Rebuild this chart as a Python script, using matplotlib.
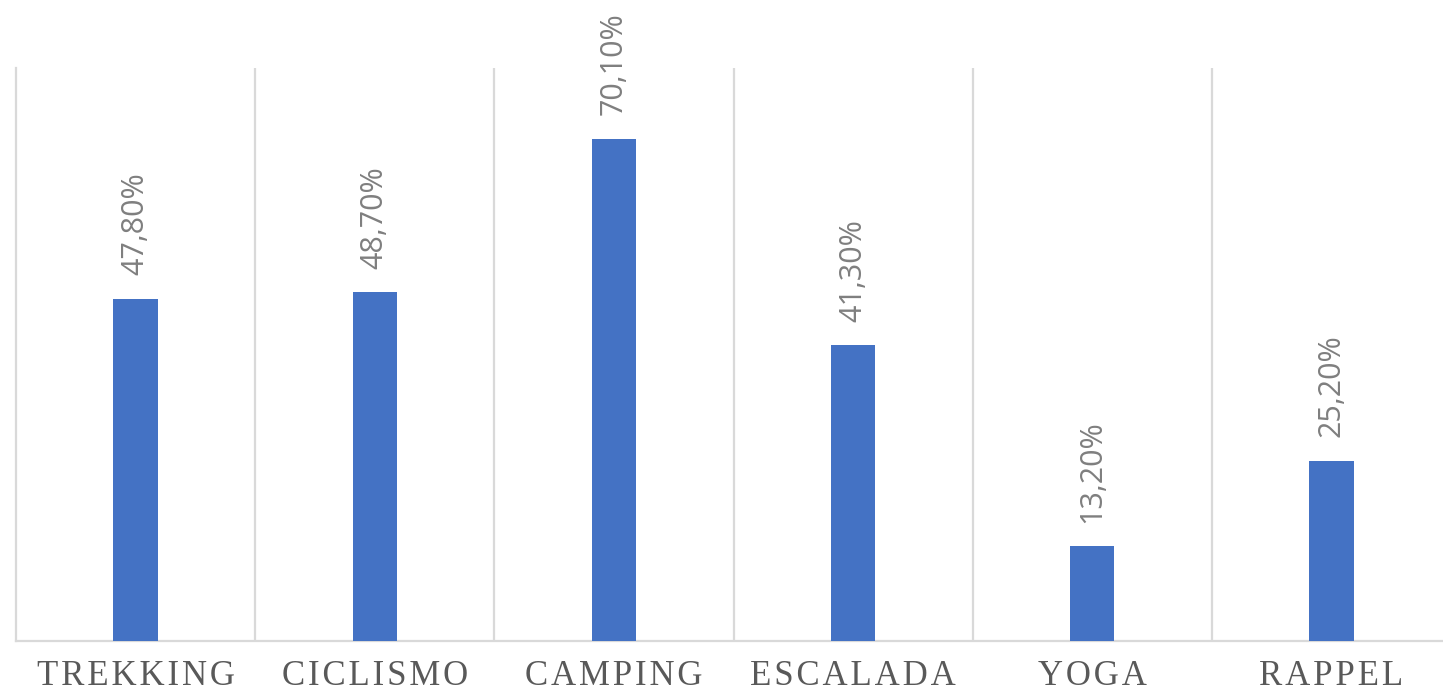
import matplotlib
matplotlib.use("Agg")
import matplotlib.pyplot as plt
import numpy as np

categories = ["TREKKING", "CICLISMO", "CAMPING", "ESCALADA", "YOGA", "RAPPEL"]
values = [47.8, 48.7, 70.1, 41.3, 13.2, 25.2]
value_labels = ["47,80%", "48,70%", "70,10%", "41,30%", "13,20%", "25,20%"]

W, H = 1443, 697
fig = plt.figure(figsize=(W / 100, H / 100), dpi=100)
# plot area runs slightly past the right edge, like the original screenshot
ax = fig.add_axes([16 / W, (H - 641) / H, (1451 - 16) / W, 573 / H])

x = np.arange(len(categories))
ax.bar(x, values, width=0.185, color="#4472C4", zorder=3)

for xi, v, lab in zip(x, values, value_labels):
    ax.annotate(lab, (xi, v), xytext=(0, 17), textcoords="offset points",
                rotation=90, ha="center", va="bottom", fontsize=22,
                color="#7f7f7f", family="Open Sans")

ax.set_xlim(-0.5, len(categories) - 0.5)
ax.set_ylim(0, 80)

# category separators
for b in np.arange(0.5, len(categories) - 0.5, 1.0):
    ax.axvline(b, color="#d9d9d9", lw=1.6, zorder=1)

for s in ["top", "right"]:
    ax.spines[s].set_visible(False)
ax.spines["left"].set_color("#d9d9d9")
ax.spines["left"].set_linewidth(1.6)
ax.spines["bottom"].set_color("#d9d9d9")
ax.spines["bottom"].set_linewidth(1.6)

spaced = ["\u200a".join(c) for c in categories]
ax.set_xticks(x)
ax.set_xticklabels(spaced, fontsize=25, color="#595959", family="Liberation Serif")
ax.tick_params(axis="x", length=0, pad=14)
ax.set_yticks([])

fig.savefig("out.png", dpi=100)
